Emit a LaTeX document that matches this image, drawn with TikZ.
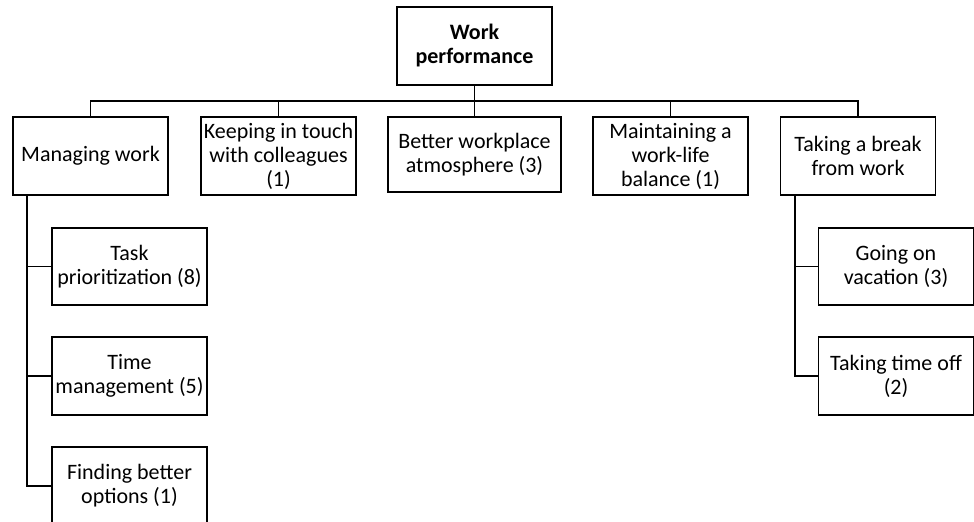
\documentclass[tikz,border=0pt]{standalone}
\usepackage{fontspec}
\setmainfont{Carlito}
\usetikzlibrary{calc}
\begin{document}
\begin{tikzpicture}[x=0.75pt,y=-0.75pt,
  box/.style={draw, line width=1.1pt, align=center, inner sep=0pt,
    minimum width=155*0.75pt, minimum height=78*0.75pt,
    font=\fontsize{16.5}{18}\selectfont},
  link/.style={line width=0.9pt},
  trunk/.style={line width=1.4pt}]
\useasboundingbox (0,0) rectangle (974,521);

% top level
\node[box, font=\fontsize{16.5}{18}\selectfont\bfseries] (root) at (474.5,46) {Work\\performance};

% first level
\node[box] (mw) at (90.5,156) {Managing work};
\node[box] (kt) at (278.5,156) {Keeping in touch\\with colleagues\\(1)};
\node[box, minimum width=173*0.75pt, minimum height=75*0.75pt] (bw) at (474.5,154.5) {Better workplace\\atmosphere (3)};
\node[box] (ml) at (670.5,156) {Maintaining a\\work-life\\balance (1)};
\node[box] (tb) at (858,156) {Taking a break\\from work};

% second level under "Managing work"
\node[box, minimum height=77*0.75pt] (tp) at (129.5,266.5) {Task\\prioritization (8)};
\node[box] (tm) at (129.5,376) {Time\\management (5)};
\node[box] (fb) at (129.5,486) {Finding better\\options (1)};

% second level under "Taking a break"
\node[box, minimum height=77*0.75pt] (gv) at (896,266.5) {Going on\\vacation (3)};
\node[box] (to) at (896,376) {Taking time off\\(2)};

% bus below the root
\coordinate (bus) at (0,101);
\draw[link] (root.south |- bus) -| (mw.north);
\draw[link] (root.south |- bus) -| (tb.north);
\draw[link] (root.south |- bus) -- (bw.north);
\draw[trunk] (root.south) -- (root.south |- bus);
\draw[trunk] (kt.north |- bus) -- (ml.north |- bus);
\draw[trunk] (kt.north |- bus) -- (kt.north);
\draw[trunk] (ml.north |- bus) -- (ml.north);

% left trunk
\coordinate (lt) at ($(mw.south west)+(15,0)$);
\draw[trunk] (lt) |- (fb.west);
\draw[link] (lt |- tp.west) -- (tp.west);
\draw[link] (lt |- tm.west) -- (tm.west);

% right trunk
\coordinate (rt) at ($(tb.south west)+(15,0)$);
\draw[trunk] (rt) |- (to.west);
\draw[link] (rt |- gv.west) -- (gv.west);
\end{tikzpicture}
\end{document}
